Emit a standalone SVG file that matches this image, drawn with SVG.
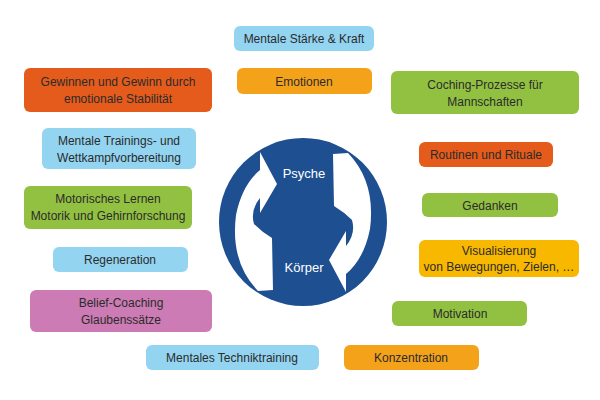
<svg xmlns="http://www.w3.org/2000/svg" width="600" height="400" viewBox="0 0 600 400">
<style>
.lb{fill:#93D4F1}.or{fill:#F5A21B}.rd{fill:#E55B1B}.gr{fill:#92C142}.ye{fill:#F9B800}.pk{fill:#CC7BB4}
text{font-family:"Liberation Sans",Arial,sans-serif;font-size:12px;fill:#2b2b2b;text-anchor:middle}
.w{fill:#fff;font-size:13px}
</style>
<rect width="600" height="400" fill="#fff"/>
<g id="center">
<circle cx="303" cy="222" r="84" fill="#1D4F91"/>
<path fill="#fff" d="M258 291 Q230 262 236 215 Q242 185 260 170 L260 152 L277 184 L260 213 L260 198 Q250 210 254 224 Q262 232 272 238 L273 290 Z"/>
<path fill="#fff" transform="rotate(180 303 222)" d="M258 291 Q230 262 236 215 Q242 185 260 170 L260 152 L277 184 L260 213 L260 198 Q250 210 254 224 Q262 232 272 238 L273 290 Z"/>
<text class="w" x="304" y="178">Psyche</text>
<text class="w" x="304" y="272">Körper</text>
</g>
<g id="n1"><rect class="lb" x="234" y="26" width="140" height="25" rx="6"/><text x="304" y="43">Mentale Stärke &amp; Kraft</text></g>
<g id="n2"><rect class="or" x="237" y="68" width="135" height="26" rx="6"/><text x="304" y="86">Emotionen</text></g>
<g id="n3"><rect class="rd" x="24" y="68" width="188" height="44" rx="6"/><text x="118" y="86">Gewinnen und Gewinn durch</text><text x="118" y="103">emotionale Stabilität</text></g>
<g id="n4"><rect class="gr" x="391" y="71" width="188" height="43" rx="6"/><text x="485" y="89">Coching-Prozesse für</text><text x="485" y="106">Mannschaften</text></g>
<g id="n5"><rect class="lb" x="42" y="128" width="154" height="41" rx="6"/><text x="119" y="145">Mentale Trainings- und</text><text x="119" y="162">Wettkampfvorbereitung</text></g>
<g id="n6"><rect class="rd" x="419" y="142" width="134" height="25" rx="6"/><text x="486" y="159">Routinen und Rituale</text></g>
<g id="n7"><rect class="gr" x="24" y="186" width="168" height="43" rx="6"/><text x="108" y="203">Motorisches Lernen</text><text x="108" y="220">Motorik und Gehirnforschung</text></g>
<g id="n8"><rect class="gr" x="422" y="193" width="136" height="24" rx="6"/><text x="490" y="210">Gedanken</text></g>
<g id="n9"><rect class="ye" x="419" y="240" width="160" height="37" rx="6"/><text x="499" y="255">Visualisierung</text><text x="499" y="271">von Bewegungen, Zielen, …</text></g>
<g id="n10"><rect class="lb" x="53" y="247" width="135" height="25" rx="6"/><text x="120" y="264">Regeneration</text></g>
<g id="n11"><rect class="pk" x="30" y="290" width="182" height="42" rx="6"/><text x="121" y="307">Belief-Coaching</text><text x="121" y="324">Glaubenssätze</text></g>
<g id="n12"><rect class="gr" x="392" y="301" width="135" height="25" rx="6"/><text x="460" y="318">Motivation</text></g>
<g id="n13"><rect class="lb" x="146" y="345" width="173" height="25" rx="6"/><text x="232" y="362">Mentales Techniktraining</text></g>
<g id="n14"><rect class="or" x="344" y="345" width="135" height="25" rx="6"/><text x="411" y="362">Konzentration</text></g>
<g id="connectors"/>
</svg>
